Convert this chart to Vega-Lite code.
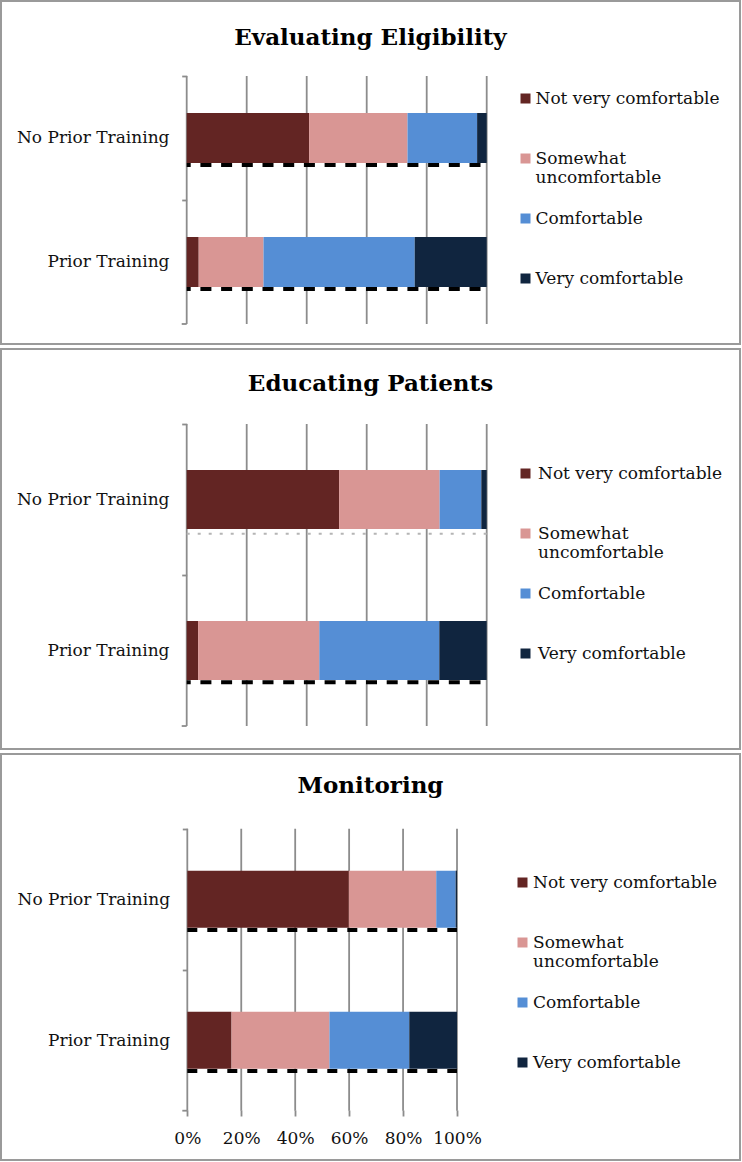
{
  "$schema": "https://vega.github.io/schema/vega-lite/v6.json",
  "padding": 0,
  "background": "white",
  "spacing": 5,
  "bounds": "flush",
  "resolve": {"scale": {"color": "independent"}, "legend": {"color": "independent"}},
  "datasets": {
    "bars": [
      {"panel": "Evaluating Eligibility", "group": "No Prior Training", "level": "Not very comfortable", "rank": 1, "pct": 40.8},
      {"panel": "Evaluating Eligibility", "group": "No Prior Training", "level": "Somewhat uncomfortable", "rank": 2, "pct": 32.8},
      {"panel": "Evaluating Eligibility", "group": "No Prior Training", "level": "Comfortable", "rank": 3, "pct": 23.2},
      {"panel": "Evaluating Eligibility", "group": "No Prior Training", "level": "Very comfortable", "rank": 4, "pct": 3.2},
      {"panel": "Evaluating Eligibility", "group": "Prior Training", "level": "Not very comfortable", "rank": 1, "pct": 4.0},
      {"panel": "Evaluating Eligibility", "group": "Prior Training", "level": "Somewhat uncomfortable", "rank": 2, "pct": 21.6},
      {"panel": "Evaluating Eligibility", "group": "Prior Training", "level": "Comfortable", "rank": 3, "pct": 50.4},
      {"panel": "Evaluating Eligibility", "group": "Prior Training", "level": "Very comfortable", "rank": 4, "pct": 24.0},
      {"panel": "Educating Patients", "group": "No Prior Training", "level": "Not very comfortable", "rank": 1, "pct": 50.8},
      {"panel": "Educating Patients", "group": "No Prior Training", "level": "Somewhat uncomfortable", "rank": 2, "pct": 33.5},
      {"panel": "Educating Patients", "group": "No Prior Training", "level": "Comfortable", "rank": 3, "pct": 13.9},
      {"panel": "Educating Patients", "group": "No Prior Training", "level": "Very comfortable", "rank": 4, "pct": 1.8},
      {"panel": "Educating Patients", "group": "Prior Training", "level": "Not very comfortable", "rank": 1, "pct": 3.8},
      {"panel": "Educating Patients", "group": "Prior Training", "level": "Somewhat uncomfortable", "rank": 2, "pct": 40.4},
      {"panel": "Educating Patients", "group": "Prior Training", "level": "Comfortable", "rank": 3, "pct": 40.0},
      {"panel": "Educating Patients", "group": "Prior Training", "level": "Very comfortable", "rank": 4, "pct": 15.8},
      {"panel": "Monitoring", "group": "No Prior Training", "level": "Not very comfortable", "rank": 1, "pct": 59.9},
      {"panel": "Monitoring", "group": "No Prior Training", "level": "Somewhat uncomfortable", "rank": 2, "pct": 32.4},
      {"panel": "Monitoring", "group": "No Prior Training", "level": "Comfortable", "rank": 3, "pct": 7.2},
      {"panel": "Monitoring", "group": "No Prior Training", "level": "Very comfortable", "rank": 4, "pct": 0.5},
      {"panel": "Monitoring", "group": "Prior Training", "level": "Not very comfortable", "rank": 1, "pct": 16.4},
      {"panel": "Monitoring", "group": "Prior Training", "level": "Somewhat uncomfortable", "rank": 2, "pct": 36.3},
      {"panel": "Monitoring", "group": "Prior Training", "level": "Comfortable", "rank": 3, "pct": 29.6},
      {"panel": "Monitoring", "group": "Prior Training", "level": "Very comfortable", "rank": 4, "pct": 17.7}
    ],
    "grid": [{"v": 0}, {"v": 20}, {"v": 40}, {"v": 60}, {"v": 80}, {"v": 100}]
  },
  "config": {
    "view": {"stroke": "#9a9a9a", "strokeWidth": 2},
    "font": "DejaVu Serif",
    "title": {"font": "DejaVu Serif", "fontWeight": "bold", "fontSize": 23, "color": "#000000", "anchor": "middle", "frame": "group", "baseline": "middle", "offset": 0},
    "axis": {"labelFont": "DejaVu Serif", "labelFontSize": 17, "labelColor": "#111111", "tickColor": "#8c8c8c", "tickWidth": 1.8, "domain": false, "grid": false, "title": null, "labelLimit": 300},
    "legend": {"labelFont": "DejaVu Serif", "labelFontSize": 17, "labelColor": "#111111", "labelLimit": 300, "symbolType": "square", "symbolSize": 100, "symbolStrokeWidth": 0, "padding": 0, "rowPadding": 4, "labelBaseline": "middle", "title": null, "orient": "none"}
  },
  "vconcat": [
    {
      "width": 739,
      "height": 343,
      "title": {"text": "Evaluating Eligibility", "dy": 53},
      "layer": [
        {
          "data": {"name": "grid"},
          "mark": {"type": "rule", "color": "#8c8c8c", "strokeWidth": 1.8},
          "encoding": {
            "x": {"field": "v", "type": "quantitative", "title": null, "axis": null},
            "y": {"datum": "No Prior Training", "type": "nominal", "bandPosition": -0.74, "title": null},
            "y2": {"datum": "Prior Training", "bandPosition": 1.74}
          }
        },
        {
          "data": {"name": "bars"},
          "transform": [{"filter": "datum.panel == 'Evaluating Eligibility' && datum.rank == 1 && datum.group == 'Prior Training'"}],
          "mark": {"type": "rule", "color": "#8c8c8c", "strokeWidth": 1.8},
          "encoding": {
            "x": {"datum": -1.667, "type": "quantitative", "axis": null},
            "x2": {"datum": 0},
            "y": {"datum": "Prior Training", "type": "nominal", "bandPosition": 1.74, "title": null}
          }
        },
        {
          "data": {"name": "bars"},
          "transform": [{"filter": "datum.panel == 'Evaluating Eligibility'"}],
          "mark": {"type": "bar"},
          "encoding": {
            "x": {"field": "pct", "type": "quantitative", "stack": "zero", "title": null, "axis": null,
                  "scale": {"domain": [-61.9, 184.43], "nice": false, "zero": false}},
            "y": {"field": "group", "type": "nominal", "title": null,
                  "scale": {"domain": ["No Prior Training", "Prior Training"], "paddingInner": 0.5968, "paddingOuter": 0.6815, "align": 0.6627},
                  "axis": {"orient": "left", "offset": -185.7, "ticks": true, "tickBand": "center", "tickOffset": -62, "labelOffset": 62, "tickSize": 5, "labelPadding": 12.7}},
            "color": {"field": "level", "type": "nominal",
                      "scale": {"domain": ["Not very comfortable", "Somewhat uncomfortable", "Comfortable", "Very comfortable"], "range": ["#632523", "#d99694", "#558ed5", "#10253f"]},
                      "legend": {"legendX": 516, "legendY": 89, "labelOffset": 1.5, "labelExpr": "datum.label == 'Somewhat uncomfortable' ? ['Somewhat', 'uncomfortable', ''] : [datum.label, '', '']"}},
            "order": {"field": "rank", "type": "quantitative"}
          }
        },
        {
          "data": {"name": "bars"},
          "transform": [{"filter": "datum.panel == 'Evaluating Eligibility' && datum.rank == 1"}],
          "mark": {"type": "rule", "color": "#000000", "strokeWidth": 4, "strokeDash": [11, 9.7], "strokeDashOffset": 7},
          "encoding": {
            "x": {"datum": 0, "type": "quantitative", "axis": null},
            "x2": {"datum": 100},
            "y": {"field": "group", "type": "nominal", "bandPosition": 1.04, "title": null}
          }
        }
      ]
    },
    {
      "width": 739,
      "height": 400,
      "title": {"text": "Educating Patients", "dy": 51},
      "layer": [
        {
          "data": {"name": "grid"},
          "mark": {"type": "rule", "color": "#8c8c8c", "strokeWidth": 1.8},
          "encoding": {
            "x": {"field": "v", "type": "quantitative", "title": null, "axis": null},
            "y": {"datum": "No Prior Training", "type": "nominal", "bandPosition": -0.78, "title": null},
            "y2": {"datum": "Prior Training", "bandPosition": 1.78}
          }
        },
        {
          "data": {"name": "bars"},
          "transform": [{"filter": "datum.panel == 'Educating Patients' && datum.rank == 1 && datum.group == 'Prior Training'"}],
          "mark": {"type": "rule", "color": "#8c8c8c", "strokeWidth": 1.8},
          "encoding": {
            "x": {"datum": -1.667, "type": "quantitative", "axis": null},
            "x2": {"datum": 0},
            "y": {"datum": "Prior Training", "type": "nominal", "bandPosition": 1.78, "title": null}
          }
        },
        {
          "data": {"name": "bars"},
          "transform": [{"filter": "datum.panel == 'Educating Patients'"}],
          "mark": {"type": "bar"},
          "encoding": {
            "x": {"field": "pct", "type": "quantitative", "stack": "zero", "title": null, "axis": null,
                  "scale": {"domain": [-61.9, 184.43], "nice": false, "zero": false}},
            "y": {"field": "group", "type": "nominal", "title": null,
                  "scale": {"domain": ["No Prior Training", "Prior Training"], "paddingInner": 0.6093, "paddingOuter": 0.6291, "align": 0.6368},
                  "axis": {"orient": "left", "offset": -185.7, "ticks": true, "tickBand": "center", "tickOffset": -75.5, "labelOffset": 75.5, "tickSize": 5, "labelPadding": 12.7}},
            "color": {"field": "level", "type": "nominal",
                      "scale": {"domain": ["Not very comfortable", "Somewhat uncomfortable", "Comfortable", "Very comfortable"], "range": ["#632523", "#d99694", "#558ed5", "#10253f"]},
                      "legend": {"legendX": 516, "legendY": 116, "labelOffset": 4, "labelExpr": "datum.label == 'Somewhat uncomfortable' ? ['Somewhat', 'uncomfortable', ''] : [datum.label, '', '']"}},
            "order": {"field": "rank", "type": "quantitative"}
          }
        },
        {
          "data": {"name": "bars"},
          "transform": [{"filter": "datum.panel == 'Educating Patients' && datum.rank == 1 && datum.group == 'Prior Training'"}],
          "mark": {"type": "rule", "color": "#000000", "strokeWidth": 4, "strokeDash": [11, 9.7], "strokeDashOffset": 7},
          "encoding": {
            "x": {"datum": 0, "type": "quantitative", "axis": null},
            "x2": {"datum": 100},
            "y": {"field": "group", "type": "nominal", "bandPosition": 1.04, "title": null}
          }
        },
        {
          "data": {"name": "bars"},
          "transform": [{"filter": "datum.panel == 'Educating Patients' && datum.rank == 1 && datum.group == 'No Prior Training'"}],
          "mark": {"type": "rule", "color": "#b5b5b5", "strokeWidth": 2, "strokeDash": [3, 8]},
          "encoding": {
            "x": {"datum": 0, "type": "quantitative", "axis": null},
            "x2": {"datum": 100},
            "y": {"field": "group", "type": "nominal", "bandPosition": 1.08, "title": null}
          }
        }
      ]
    },
    {
      "width": 739,
      "height": 406,
      "title": {"text": "Monitoring", "dy": 48},
      "layer": [
        {
          "data": {"name": "grid"},
          "mark": {"type": "rule", "color": "#8c8c8c", "strokeWidth": 1.8},
          "encoding": {
            "x": {"field": "v", "type": "quantitative", "title": null},
            "y": {"datum": "No Prior Training", "type": "nominal", "bandPosition": -0.737, "title": null},
            "y2": {"datum": "Prior Training", "bandPosition": 1.737}
          }
        },
        {
          "data": {"name": "bars"},
          "transform": [{"filter": "datum.panel == 'Monitoring' && datum.rank == 1 && datum.group == 'Prior Training'"}],
          "mark": {"type": "rule", "color": "#8c8c8c", "strokeWidth": 1.8},
          "encoding": {
            "x": {"datum": -1.85, "type": "quantitative", "title": null},
            "x2": {"datum": 0},
            "y": {"datum": "Prior Training", "type": "nominal", "bandPosition": 1.737, "title": null}
          }
        },
        {
          "data": {"name": "bars"},
          "transform": [{"filter": "datum.panel == 'Monitoring'"}],
          "mark": {"type": "bar"},
          "encoding": {
            "x": {"field": "pct", "type": "quantitative", "stack": "zero", "title": null,
                  "scale": {"domain": [-69.08, 204.93], "nice": false, "zero": false},
                  "axis": {"orient": "bottom", "offset": -50, "values": [0, 20, 40, 60, 80, 100], "ticks": true, "tickSize": 6, "labelPadding": 14, "labelExpr": "datum.value + '%'", "labelFlush": false, "labelOverlap": false}},
            "y": {"field": "group", "type": "nominal", "title": null,
                  "scale": {"domain": ["No Prior Training", "Prior Training"], "paddingInner": 0.5957, "paddingOuter": 0.7376, "align": 0.561},
                  "axis": {"orient": "left", "offset": -186.3, "ticks": true, "tickBand": "center", "tickOffset": -70.5, "labelOffset": 70.5, "tickSize": 5, "labelPadding": 12.7}},
            "color": {"field": "level", "type": "nominal",
                      "scale": {"domain": ["Not very comfortable", "Somewhat uncomfortable", "Comfortable", "Very comfortable"], "range": ["#632523", "#d99694", "#558ed5", "#10253f"]},
                      "legend": {"legendX": 513, "legendY": 120, "labelOffset": 2, "labelExpr": "datum.label == 'Somewhat uncomfortable' ? ['Somewhat', 'uncomfortable', ''] : [datum.label, '', '']"}},
            "order": {"field": "rank", "type": "quantitative"}
          }
        },
        {
          "data": {"name": "bars"},
          "transform": [{"filter": "datum.panel == 'Monitoring' && datum.rank == 1"}],
          "mark": {"type": "rule", "color": "#000000", "strokeWidth": 4, "strokeDash": [10, 10]},
          "encoding": {
            "x": {"datum": 0, "type": "quantitative", "title": null},
            "x2": {"datum": 100},
            "y": {"field": "group", "type": "nominal", "bandPosition": 1.04, "title": null}
          }
        }
      ]
    }
  ]
}
